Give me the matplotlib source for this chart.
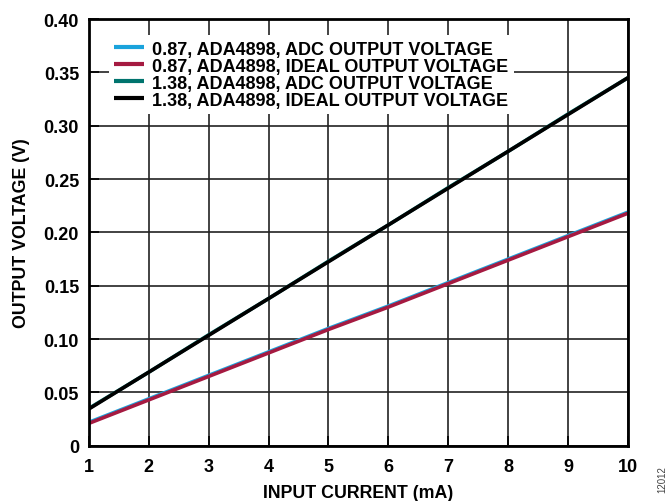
import matplotlib
matplotlib.use("Agg")
import matplotlib.pyplot as plt

plt.rcParams["font.family"] = ["Liberation Sans", "DejaVu Sans"]
plt.rcParams["font.weight"] = "bold"

# ===================== data =====================
current_ma = [1, 2, 3, 4, 5, 6, 7, 8, 9, 10]
adc_087 = [0.022, 0.044, 0.066, 0.088, 0.110, 0.131, 0.153, 0.175, 0.197, 0.219]
ideal_087 = [0.021, 0.043, 0.065, 0.087, 0.109, 0.130, 0.152, 0.174, 0.196, 0.218]
adc_138 = [0.035, 0.069, 0.104, 0.138, 0.173, 0.207, 0.242, 0.276, 0.311, 0.345]
ideal_138 = [0.0345, 0.069, 0.1035, 0.138, 0.1725, 0.207, 0.2415, 0.276, 0.3105, 0.345]

labels = ["0.87, ADA4898, ADC OUTPUT VOLTAGE",
          "0.87, ADA4898, IDEAL OUTPUT VOLTAGE",
          "1.38, ADA4898, ADC OUTPUT VOLTAGE",
          "1.38, ADA4898, IDEAL OUTPUT VOLTAGE"]
colors = ["#1aa3dc", "#a51a41", "#00746e", "#000000"]

y_ticks = [0, 0.05, 0.10, 0.15, 0.20, 0.25, 0.30, 0.35, 0.40]
y_tick_labels = ["0", "0.05", "0.10", "0.15", "0.20", "0.25", "0.30", "0.35", "0.40"]

# ===================== plot =====================
fig = plt.figure(figsize=(6.68, 5.02), dpi=100)
ax = fig.add_axes([0.133, 0.110, 0.807, 0.850])

series = [adc_087, ideal_087, adc_138, ideal_138]
for vals, lab, c in zip(series, labels, colors):
    ax.plot(current_ma, vals, color=c, lw=2.6, label=lab, solid_capstyle="butt")

ax.set_xlim(1, 10)
ax.set_ylim(0, 0.40)
ax.set_xticks(current_ma)
ax.set_yticks(y_ticks)
ax.set_yticklabels(y_tick_labels)
ax.grid(True, color="#222222", lw=1.2)
ax.set_axisbelow(True)
for s in ax.spines.values():
    s.set_linewidth(2)
ax.tick_params(direction="in", length=7, width=1.2, labelsize=13)
ax.tick_params(axis="x", pad=9)
ax.tick_params(axis="y", pad=7)
for t in ax.get_xticklabels() + ax.get_yticklabels():
    t.set_fontweight("bold")

ax.set_xlabel("INPUT CURRENT (mA)", fontsize=12.8, fontweight="bold", labelpad=6)
ax.set_ylabel("OUTPUT VOLTAGE (V)", fontsize=12.8, fontweight="bold", labelpad=10)

leg = ax.legend(loc="upper left", bbox_to_anchor=(0.02, 0.983), frameon=True,
                facecolor="white", edgecolor="none", framealpha=1.0, fancybox=False,
                borderpad=0.3, handlelength=1.65, handletextpad=0.45, labelspacing=0.0,
                prop={"size": 13, "weight": "bold"})
for h in leg.get_lines():
    h.set_linewidth(3)

fig.text(0.992, 0.045, "12012", rotation=90, fontsize=7, fontweight="normal",
         color="#444444", ha="center", va="center")

plt.savefig("out.png", dpi=100)
plt.close()
